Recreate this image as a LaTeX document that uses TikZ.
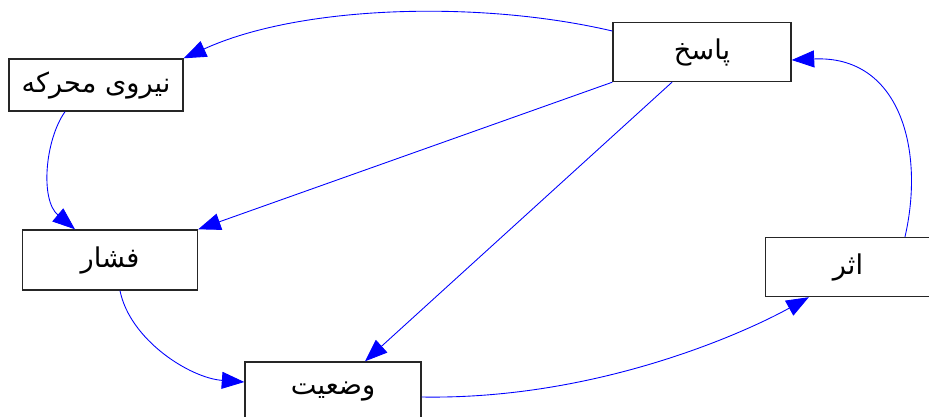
\documentclass[tikz,border=0pt]{standalone}
\usepackage{fontspec}
\newfontfamily\arabicfont[Script=Arabic]{DejaVu Sans}
\TeXXeTstate=1
\usetikzlibrary{arrows.meta}
\newcommand{\fatext}[1]{{\arabicfont\fontsize{15.5}{18}\selectfont\beginR #1\endR}}
\definecolor{linkblue}{RGB}{0,0,255}
\begin{document}
\begin{tikzpicture}[x=0.02cm,y=-0.02cm,
	box/.style={draw=black!85, line width=0.8pt, fill=white, inner sep=0pt},
	link/.style={draw=linkblue, line width=0.5pt, -{Triangle[length=0.45cm,width=0.34cm]}, fill=none}]

	\useasboundingbox (0,0) rectangle (929,416);

	%The five boxes
	\node[box, minimum width=3.56cm, minimum height=1.18cm] (resp) at (702,52) {\fatext{پاسخ}};
	\node[box, minimum width=3.48cm, minimum height=1.04cm] (driver) at (96,85) {\fatext{نیروی محرکه}};
	\node[box, minimum width=3.5cm, minimum height=1.2cm] (press) at (110,260) {\fatext{فشار}};
	\node[box, minimum width=3.52cm, minimum height=1.16cm] (state) at (333,391) {\fatext{وضعیت}};
	\node[box, minimum width=3.3cm, minimum height=1.18cm] (impact) at (848,267) {\fatext{اثر}};

	%The links
	\draw[link] ([yshift=0.42cm]resp.west) .. controls (480,0) and (300,5) .. (driver.north east);
	\draw[link] ([xshift=-0.62cm]driver.south) .. controls (45,140) and (40,200) .. ([xshift=-0.7cm]press.north);
	\draw[link] (resp.south west) -- (press.north east);
	\draw[link] ([xshift=-0.6cm]resp.south) -- ([xshift=0.64cm]state.north);
	\draw[link] ([xshift=0.2cm]press.south) .. controls (130,340) and (190,378) .. ([yshift=0.18cm]state.west);
	\draw[link] ([yshift=-0.12cm]state.east) .. controls (600,400) and (750,330) .. ([xshift=0.88cm]impact.south west);
	\draw[link] ([xshift=1.14cm]impact.north) .. controls (925,150) and (900,55) .. ([yshift=-0.16cm]resp.east);

\end{tikzpicture}
\end{document}
